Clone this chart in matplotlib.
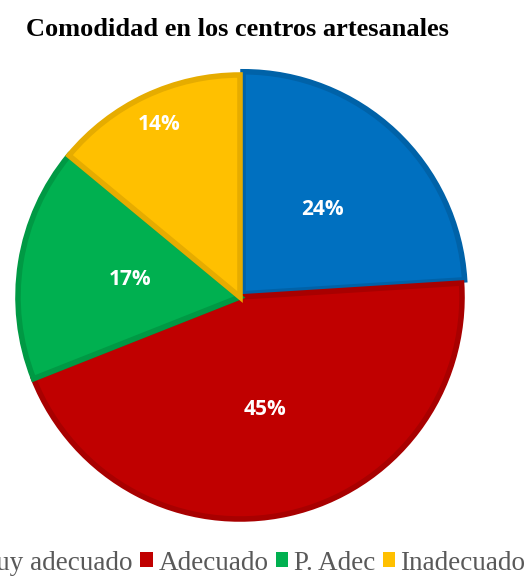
import matplotlib.pyplot as plt
import numpy as np

# Chart data
labels = ['Muy adecuado', 'Adecuado', 'P. Adec', 'Inadecuado']
values = [24, 45, 17, 14]
colors = ['#0070C0', '#C00000', '#00B050', '#FFC000']
edge_colors = ['#0062A8', '#A80000', '#009944', '#E6AC00']
label_dist = [0.52, 0.52, 0.5, 0.86]

fig = plt.figure(figsize=(5.28, 5.76), dpi=100)
W, H = 528, 576
cx, cy, r = 240, 297, 222
ax = fig.add_axes([(cx - r) / W, 1 - (cy + r) / H, 2 * r / W, 2 * r / H])

wedges, texts, autotexts = ax.pie(
    values, colors=colors, startangle=90, counterclock=False,
    explode=[0.02, 0, 0, 0], autopct='%1.0f%%', pctdistance=0.52,
    textprops=dict(color='white', fontsize=15, fontweight='bold',
                   family='Open Sans'),
    wedgeprops=dict(linewidth=4))
for w, ec in zip(wedges, edge_colors):
    w.set_edgecolor(ec)

# move the labels (Excel best fit puts the small slice label outward)
for w, t, d in zip(wedges, autotexts, label_dist):
    ang = np.deg2rad((w.theta1 + w.theta2) / 2)
    cxw, cyw = w.center
    t.set_position((cxw + d * np.cos(ang), cyw + d * np.sin(ang)))

ax.set_xlim(-1, 1)
ax.set_ylim(-1, 1)
ax.set_aspect('equal')

fig.text(237 / W, 1 - 29 / H, 'Comodidad en los centros artesanales',
         ha='center', va='center', fontsize=19, fontweight='bold',
         family='Liberation Serif')

leg = fig.legend(wedges, labels, loc='center', ncol=4,
                 bbox_to_anchor=(240 / W, 1 - 563 / H), frameon=False,
                 prop=dict(family='Liberation Serif', size=19.5),
                 handlelength=0.46, handleheight=0.46, handletextpad=0.2,
                 columnspacing=0.28, labelcolor='#595959')
for h in leg.legend_handles:
    h.set_edgecolor('none')

fig.savefig('out.png', dpi=100)
